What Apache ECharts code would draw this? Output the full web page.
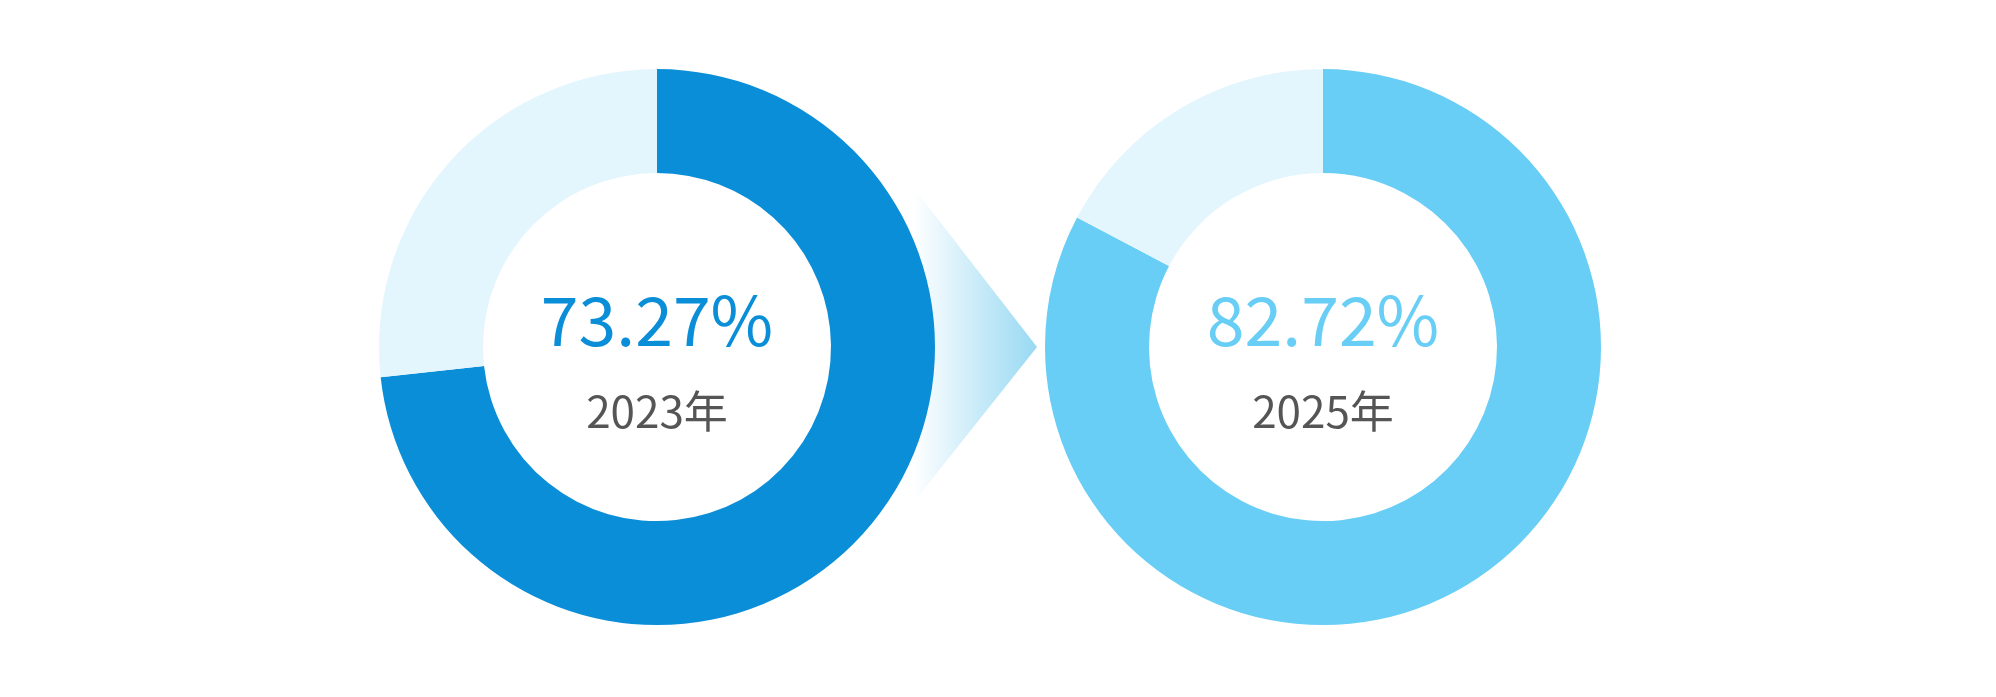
<!DOCTYPE html>
<html>
<head>
<meta charset="utf-8">
<style>
  html, body { margin: 0; padding: 0; background: #fff; }
  #chart { width: 1996px; height: 697px; }
</style>
<script src="https://cdn.jsdelivr.net/npm/echarts@6/dist/echarts.min.js"></script>
</head>
<body>
<div id="chart"></div>
<script>
// 年份与占比
const years = ['2023年', '2025年']
const rates = [73.27, 82.72]
const mainColors = ['#0b8ed8', '#68cef5']
const restColor = '#e4f6fd'

const chart = echarts.init(document.getElementById('chart'))

function buildPie(i, cx) {
  const v = rates[i]
  return {
    type: 'pie',
    center: [cx, '49.8%'],
    radius: [174, 278],
    startAngle: 90,
    clockwise: true,
    silent: true,
    z: 3,
    emphasis: { disabled: true },
    labelLine: { show: false },
    data: [
      {
        value: v,
        name: years[i],
        itemStyle: { color: mainColors[i] },
        label: {
          show: true,
          position: 'center',
          formatter: () => '{v|' + v.toFixed(2) + '%}\n{y|' + years[i] + '}',
          rich: {
            v: {
              fontSize: 68,
              color: mainColors[i],
              fontFamily: 'Noto Sans CJK SC',
              lineHeight: 128
            },
            y: {
              fontSize: 44,
              color: '#555555',
              fontFamily: 'Noto Sans CJK SC',
              lineHeight: 54
            }
          }
        }
      },
      {
        value: +(100 - v).toFixed(2),
        name: 'rest',
        itemStyle: { color: restColor },
        label: { show: false }
      }
    ]
  }
}

const option = {
  animation: false,
  // 中间的渐变箭头
  graphic: [
    {
      type: 'polygon',
      z: 0,
      shape: { points: [[913, 187], [1037, 347], [913, 503]] },
      style: {
        fill: {
          type: 'linear',
          x: 0, y: 0, x2: 1, y2: 0,
          colorStops: [
            { offset: 0, color: '#ffffff' },
            { offset: 1, color: '#98d9f3' }
          ]
        }
      }
    }
  ],
  series: [buildPie(0, 657), buildPie(1, 1323)]
}

chart.setOption(option)
</script>
</body>
</html>
